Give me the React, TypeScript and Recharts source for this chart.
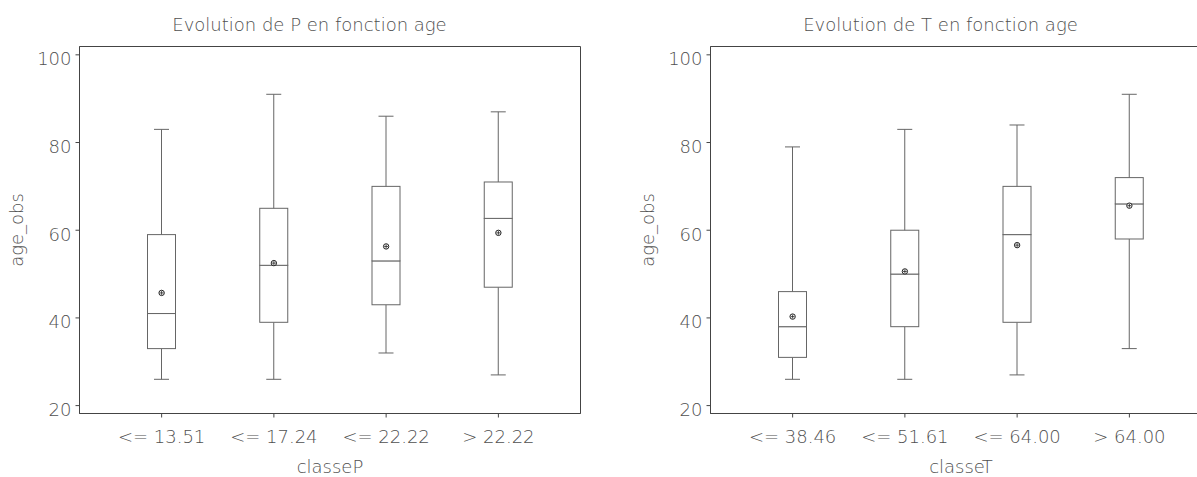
import React from 'react';
import { ComposedChart, Bar, Line, XAxis, YAxis, CartesianGrid } from 'recharts';

// classe P
const classesP = ['<= 13.51', '<= 17.24', '<= 22.22', '> 22.22'];
const pMin = [26, 26, 32, 27];
const pQ1 = [33, 39, 43, 47];
const pMed = [41, 52, 53, 62.7];
const pQ3 = [59, 65, 70, 71];
const pMax = [83, 91, 86, 87];
const pMean = [45.7, 52.5, 56.3, 59.4];

// classe T
const classesT = ['<= 38.46', '<= 51.61', '<= 64.00', '> 64.00'];
const tMin = [26, 26, 27, 33];
const tQ1 = [31, 38, 39, 58];
const tMed = [38, 50, 59, 66];
const tQ3 = [46, 60, 70, 72];
const tMax = [79, 83, 84, 91];
const tMean = [40.3, 50.6, 56.6, 65.6];

const yTicks = [20, 40, 60, 80, 100];

const FONT = "'DejaVu Sans', sans-serif";
const TEXT = '#505050';
const LINE = '#666';
const FRAME = '#444';

const toRows = (
  labels: string[], min: number[], q1: number[], med: number[], q3: number[], max: number[], mean: number[]
) =>
  labels.map((label, i) => ({
    label,
    base: min[i],
    lowW: q1[i] - min[i],
    lowBox: med[i] - q1[i],
    highBox: q3[i] - med[i],
    highW: max[i] - q3[i],
    mean: mean[i],
  }));

const WhiskerLow = (p: any) => {
  const cx = p.x + p.width / 2;
  const yb = p.y + p.height;
  return (
    <g>
      <line x1={cx} x2={cx} y1={p.y} y2={yb} stroke={LINE} />
      <line x1={cx - 7.5} x2={cx + 7.5} y1={yb} y2={yb} stroke={LINE} />
    </g>
  );
};

const WhiskerHigh = (p: any) => {
  const cx = p.x + p.width / 2;
  return (
    <g>
      <line x1={cx} x2={cx} y1={p.y} y2={p.y + p.height} stroke={LINE} />
      <line x1={cx - 7.5} x2={cx + 7.5} y1={p.y} y2={p.y} stroke={LINE} />
    </g>
  );
};

const BoxPart = (p: any) => (
  <rect x={p.x} y={p.y} width={p.width} height={p.height} fill="white" stroke={LINE} />
);

const MeanDot = (p: any) => {
  if (p.cx == null || p.cy == null) return null;
  return (
    <g key={p.index}>
      <circle cx={p.cx} cy={p.cy} r={2.7} fill="white" stroke="#222" />
      <line x1={p.cx - 2} x2={p.cx + 2} y1={p.cy} y2={p.cy} stroke="#222" strokeWidth={0.8} />
      <line x1={p.cx} x2={p.cx} y1={p.cy - 2} y2={p.cy + 2} stroke="#222" strokeWidth={0.8} />
    </g>
  );
};

const YTick = (p: any) => (
  <text x={p.x} y={p.y + 4} dy="0.35em" textAnchor="end" fontSize={18} fontFamily={FONT} fontWeight={200} fill={TEXT}>
    {p.payload.value}
  </text>
);

const XTick = (p: any) => (
  <text x={p.x} y={p.y + 17} dy="0.35em" textAnchor="middle" fontSize={18} fontFamily={FONT} fontWeight={200} fill={TEXT}>
    {p.payload.value}
  </text>
);

interface PanelProps {
  title: string;
  xLabel: string;
  rows: ReturnType<typeof toRows>;
  left: number;
}

const BoxPanel: React.FC<PanelProps> = ({ title, xLabel, rows, left }) => (
  <div style={{ position: 'absolute', left, top: 0, width: 600, height: 477 }}>
    <div
      style={{
        position: 'absolute', left: 0, top: 14, width: 619, height: 22, lineHeight: '22px',
        textAlign: 'center', fontSize: 18, fontFamily: FONT, fontWeight: 200, color: TEXT,
      }}
    >
      {title}
    </div>
    <ComposedChart
      width={600}
      height={477}
      data={rows}
      margin={{ top: 46.5, right: 19.5, bottom: 19.5, left: 19.5 }}
      style={{ position: 'absolute', left: 0, top: 0 }}
    >
      {/* frame round the plot area */}
      <CartesianGrid
        stroke={FRAME}
        fill="none"
        horizontalCoordinatesGenerator={({ offset }: any) => [offset.top, offset.top + offset.height]}
        verticalCoordinatesGenerator={({ offset }: any) => [offset.left, offset.left + offset.width]}
      />
      <XAxis
        dataKey="label"
        type="category"
        padding={{ left: 26, right: 26 }}
        height={44}
        tickSize={4}
        tickMargin={2}
        tick={<XTick />}
        axisLine={{ stroke: FRAME }}
        tickLine={{ stroke: FRAME }}
        label={{ value: xLabel, position: 'bottom', offset: 3, fontSize: 18, fontFamily: FONT, fontWeight: 200, fill: TEXT }}
      />
      <YAxis
        type="number"
        domain={[18.2, 101.9]}
        allowDataOverflow
        ticks={yTicks}
        width={60}
        tickSize={4}
        tickMargin={4}
        tick={<YTick />}
        axisLine={{ stroke: FRAME }}
        tickLine={{ stroke: FRAME }}
        label={{
          content: (lp: any) => {
            const vb = lp.viewBox;
            const cx = vb.x - 3;
            const cy = vb.y + vb.height / 2;
            return (
              <text x={cx} y={cy} transform={`rotate(-90, ${cx}, ${cy})`} textAnchor="middle" dy="0.35em"
                fontSize={18} fontFamily={FONT} fontWeight={200} fill={TEXT}>
                age_obs
              </text>
            );
          },
        }}
      />
      <Bar dataKey="base" stackId="b" barSize={28} fill="none" isAnimationActive={false} shape={() => <g />} />
      <Bar dataKey="lowW" stackId="b" barSize={28} isAnimationActive={false} shape={WhiskerLow} />
      <Bar dataKey="lowBox" stackId="b" barSize={28} isAnimationActive={false} shape={BoxPart} />
      <Bar dataKey="highBox" stackId="b" barSize={28} isAnimationActive={false} shape={BoxPart} />
      <Bar dataKey="highW" stackId="b" barSize={28} isAnimationActive={false} shape={WhiskerHigh} />
      <Line dataKey="mean" stroke="none" dot={(p: any) => <MeanDot key={p.index} {...p} />} activeDot={false} isAnimationActive={false} />
    </ComposedChart>
  </div>
);

const rowsP = toRows(classesP, pMin, pQ1, pMed, pQ3, pMax, pMean);
const rowsT = toRows(classesT, tMin, tQ1, tMed, tQ3, tMax, tMean);

export default function App() {
  return (
    <div style={{ position: 'fixed', left: 0, top: 0, width: 1197, height: 477, overflow: 'hidden', background: 'white' }}>
      <BoxPanel title="Evolution de P en fonction age" xLabel="classeP" rows={rowsP} left={0} />
      <BoxPanel title="Evolution de T en fonction age" xLabel="classeT" rows={rowsT} left={631} />
    </div>
  );
}
